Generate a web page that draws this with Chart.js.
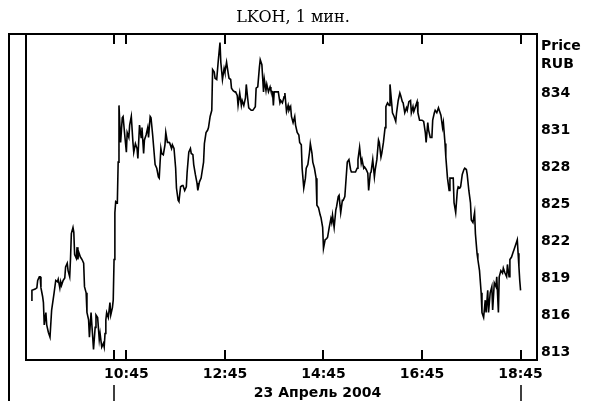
<!DOCTYPE html>
<html>
<head>
<meta charset="utf-8">
<script src="https://cdn.jsdelivr.net/npm/chart.js@4.4.1/dist/chart.umd.min.js"></script>
<style>
  html, body { margin: 0; padding: 0; background: #fff; }
</style>
</head>
<body>
<canvas id="chart" width="605" height="401"></canvas>
<script>
// 1-minute bars, numbered from the left edge of the plot; bar 121 = 10:45, 23 April
const bars = [
  5, 6, 10, 12, 13, 15, 16, 17, 19, 20, 21, 23, 24, 26, 28, 30, 33, 35, 37, 38,
  40, 41, 42, 44, 46, 47, 49, 50, 52, 53, 54, 56, 57, 58, 60, 61, 62, 63, 65, 66,
  67, 69, 70, 72, 73, 75, 76, 78, 80, 81, 83, 84, 86, 88, 89, 91, 93, 94, 95, 96,
  97, 99, 101, 102, 104, 105, 106, 107, 108, 110, 111, 112, 114, 116, 117, 119, 121, 122, 124, 125,
  127, 129, 130, 132, 134, 135, 137, 139, 140, 142, 143, 145, 147, 148, 150, 151, 153, 155, 156, 158,
  160, 161, 163, 164, 166, 168, 169, 171, 173, 174, 176, 177, 179, 181, 182, 184, 185, 187, 189, 190,
  192, 194, 195, 197, 199, 200, 202, 203, 205, 207, 208, 210, 212, 213, 215, 216, 218, 220, 221, 223,
  225, 226, 228, 229, 231, 233, 235, 236, 238, 240, 241, 243, 245, 246, 248, 249, 251, 253, 254, 256,
  257, 259, 261, 262, 264, 266, 267, 269, 270, 273, 275, 278, 279, 281, 283, 284, 286, 288, 289, 291,
  292, 294, 296, 297, 299, 300, 301, 304, 306, 308, 309, 311, 313, 314, 316, 318, 319, 321, 322, 324,
  326, 327, 329, 331, 332, 334, 335, 337, 339, 340, 342, 344, 345, 347, 348, 350, 352, 353, 355, 357,
  358, 360, 361, 363, 365, 366, 368, 370, 371, 372, 374, 376, 377, 379, 380, 382, 384, 385, 387, 389,
  390, 392, 394, 395, 398, 400, 402, 403, 405, 407, 408, 410, 411, 413, 415, 416, 418, 419, 421, 423,
  424, 426, 428, 429, 431, 432, 434, 436, 437, 439, 441, 442, 444, 445, 447, 449, 450, 452, 454, 455,
  457, 458, 460, 462, 463, 465, 467, 468, 470, 471, 473, 475, 476, 478, 480, 481, 483, 485, 486, 488,
  489, 491, 493, 494, 496, 497, 499, 501, 502, 504, 506, 507, 509, 510, 512, 514, 515, 517, 519, 520,
  522, 524, 525, 527, 528, 530, 532, 533, 535, 536, 538, 540, 541, 543, 545, 546, 548, 549, 551, 553,
  554, 556, 558, 559, 561, 562, 564, 566, 567, 569, 571, 572, 574, 575, 577, 579, 580, 582, 584, 585,
  587, 588, 590, 592, 593, 595, 597, 598, 599, 600, 601
];

const prices = [
  817.2, 818.0, 818.1, 818.2, 818.8, 819.1, 819.1, 818.2, 817.5, 817.0, 815.2, 816.2, 815.2, 814.6, 814.2, 816.4, 817.8, 818.8, 818.7, 818.9,
  818.2, 818.7, 818.4, 818.8, 819.0, 819.9, 820.2, 819.6, 819.1, 820.6, 822.6, 823.1, 822.7, 820.9, 820.6, 821.5, 820.5, 821.1, 820.7, 820.6,
  820.5, 820.2, 818.3, 817.8, 816.2, 815.6, 814.2, 816.2, 814.2, 813.2, 815.0, 816.0, 815.8, 814.0, 814.5, 813.4, 813.7, 813.4, 814.5, 815.6,
  816.2, 815.8, 817.0, 816.0, 816.6, 817.2, 820.5, 824.3, 825.2, 825.1, 828.4, 833.0, 830.0, 832.0, 832.1, 830.6, 829.2, 830.8, 830.4, 831.4,
  832.1, 830.0, 829.2, 829.9, 829.5, 828.7, 831.4, 830.4, 831.2, 829.1, 830.2, 830.6, 831.2, 830.4, 832.1, 832.0, 830.6, 829.0, 828.2, 827.9,
  827.2, 827.1, 829.5, 829.1, 829.0, 829.8, 830.8, 830.0, 830.0, 829.9, 829.5, 829.8, 829.5, 827.9, 826.3, 825.3, 825.2, 826.4, 826.5, 826.5,
  826.1, 826.4, 827.6, 829.2, 829.5, 829.1, 829.0, 828.2, 827.4, 826.7, 826.1, 826.8, 827.1, 827.1, 828.4, 829.9, 830.8, 831.0, 831.2, 832.1,
  832.6, 835.9, 835.7, 835.2, 835.1, 836.7, 838.1, 836.5, 835.1, 836.0, 835.7, 836.5, 835.6, 835.2, 835.1, 834.4, 834.2, 834.1, 834.1, 833.8,
  833.0, 834.0, 833.0, 833.4, 833.0, 833.6, 834.7, 833.4, 832.8, 832.6, 832.6, 832.9, 834.4, 834.5, 836.1, 836.7, 836.3, 834.1, 835.1, 834.2,
  834.7, 834.1, 834.5, 834.2, 834.1, 833.0, 834.1, 834.1, 834.1, 833.2, 833.4, 833.2, 833.7, 834.0, 832.5, 833.0, 832.6, 832.9, 832.1, 831.6,
  832.1, 831.4, 830.8, 830.6, 830.0, 829.8, 827.9, 826.3, 827.1, 827.9, 828.2, 829.2, 829.9, 829.1, 828.4, 827.9, 827.1, 824.9, 824.7, 824.1,
  823.9, 823.1, 821.4, 822.1, 822.2, 822.3, 823.1, 823.8, 823.5, 824.1, 823.1, 824.5, 824.8, 825.6, 825.7, 824.3, 825.3, 825.3, 825.6, 827.5,
  828.4, 828.6, 827.8, 827.6, 827.6, 827.6, 827.9, 828.6, 829.6, 828.3, 828.6, 827.9, 828.0, 827.8, 827.5, 826.1, 827.5, 827.6, 828.6, 827.2,
  827.8, 828.6, 830.2, 830.0, 828.8, 829.1, 830.0, 831.2, 832.9, 833.2, 833.0, 834.7, 833.2, 832.4, 832.1, 831.7, 832.4, 833.4, 834.0, 833.8,
  833.3, 833.2, 832.4, 832.8, 832.6, 833.3, 833.4, 832.4, 832.9, 832.5, 832.9, 833.3, 832.4, 831.8, 831.8, 831.8, 831.7, 830.8, 830.0, 831.6,
  831.0, 830.4, 830.4, 831.8, 832.4, 832.6, 832.4, 832.8, 832.6, 832.2, 831.2, 831.6, 829.9, 828.8, 827.1, 826.1, 827.1, 827.1, 827.1, 825.1,
  824.3, 826.1, 826.4, 826.3, 826.4, 827.4, 827.8, 827.9, 827.8, 827.4, 826.1, 825.1, 823.7, 823.5, 824.3, 822.6, 821.0, 820.5, 819.6, 817.8,
  816.2, 815.8, 817.2, 816.2, 818.0, 816.2, 817.8, 818.3, 816.4, 818.6, 818.3, 819.1, 816.2, 819.1, 819.6, 819.4, 819.8, 819.4, 819.1, 820.1,
  819.1, 820.5, 820.7, 821.1, 821.3, 821.7, 822.1, 821.0, 819.9, 818.8, 818.0
];

// time axis: 10:30 (session start, no label), 10:45 ... 18:45
const tickBars = [106, 121, 241, 361, 481, 601];
const tickLabels = ['', '10:45', '12:45', '14:45', '16:45', '18:45'];
const priceTicks = [813, 816, 819, 822, 825, 828, 831, 834];

const chartTitle = 'LKOH, 1 мин.';
const dateLabel = '23 Апрель 2004';
const unitLabels = ['Price', 'RUB'];

const boldFont = { family: "'DejaVu Sans', Verdana, sans-serif", size: 14, weight: 'bold' };

// Frame, tick marks and extra captions
const framePlugin = {
    id: 'frame',
    afterDraw(chart) {
        const { ctx, chartArea: a } = chart;
        const xs = chart.scales.x;
        ctx.save();
        ctx.strokeStyle = '#000';
        ctx.lineWidth = 2;
        ctx.beginPath();
        // outer left rule + top rule
        ctx.moveTo(9, 401);
        ctx.lineTo(9, a.top);
        ctx.lineTo(a.right + 1, a.top);
        // inner plot box
        ctx.moveTo(a.left - 1, a.top);
        ctx.lineTo(a.left - 1, a.bottom);
        ctx.lineTo(a.right, a.bottom);
        ctx.moveTo(a.right, a.top);
        ctx.lineTo(a.right, a.bottom + 1);
        // time ticks, top and bottom
        tickBars.forEach(v => {
            const px = Math.round(xs.getPixelForValue(v));
            ctx.moveTo(px, a.top);
            ctx.lineTo(px, a.top + 10);
            ctx.moveTo(px, a.bottom);
            ctx.lineTo(px, a.bottom - 10);
        });
        ctx.stroke();

        // day span markers under the labels
        const d0 = Math.round(xs.getPixelForValue(tickBars[0]));
        const d1 = Math.round(xs.getPixelForValue(tickBars[tickBars.length - 1]));
        ctx.lineWidth = 1.5;
        ctx.beginPath();
        ctx.moveTo(d0, a.bottom + 25);
        ctx.lineTo(d0, 401);
        ctx.moveTo(d1, a.bottom + 25);
        ctx.lineTo(d1, 401);
        ctx.stroke();

        ctx.fillStyle = '#000';
        ctx.textBaseline = 'middle';
        ctx.textAlign = 'center';
        ctx.font = "16px 'DejaVu Serif', serif";
        ctx.fillText(chartTitle, 293, 18);

        ctx.font = "bold 14px 'DejaVu Sans', Verdana, sans-serif";
        ctx.fillText(dateLabel, (d0 + d1) / 2, 393);

        ctx.textAlign = 'left';
        ctx.fillText(unitLabels[0], a.right + 4, 46);
        ctx.fillText(unitLabels[1], a.right + 4, 64);
        ctx.restore();
    }
};

const points = bars.map((b, i) => ({ x: b, y: prices[i] }));

const ctx = document.getElementById('chart').getContext('2d');
new Chart(ctx, {
    type: 'line',
    data: {
        datasets: [{
            data: points,
            borderColor: '#000',
            borderWidth: 1.6,
            pointRadius: 0,
            tension: 0,
            fill: false
        }]
    },
    options: {
        responsive: false,
        animation: false,
        devicePixelRatio: 1,
        layout: { padding: { left: 27, top: 34, right: 0, bottom: 0 } },
        plugins: {
            legend: { display: false },
            title: { display: false },
            tooltip: { enabled: false }
        },
        scales: {
            x: {
                type: 'linear',
                min: 0,
                max: 621,
                grid: { display: false, drawTicks: false },
                border: { display: false },
                afterBuildTicks: scale => {
                    scale.ticks = tickBars.map(v => ({ value: v }));
                },
                afterFit: scale => { scale.height = 41; },
                ticks: {
                    autoSkip: false,
                    maxRotation: 0,
                    minRotation: 0,
                    padding: 6,
                    color: '#000',
                    font: boldFont,
                    callback: (value, index) => tickLabels[index]
                }
            },
            y: {
                position: 'right',
                min: 812.35,
                max: 838.79,
                grid: { display: false, drawTicks: false },
                border: { display: false },
                afterBuildTicks: scale => {
                    scale.ticks = priceTicks.map(v => ({ value: v }));
                },
                afterFit: scale => { scale.width = 68; },
                ticks: {
                    padding: 4,
                    color: '#000',
                    font: boldFont,
                    callback: value => value
                }
            }
        }
    },
    plugins: [framePlugin]
});
</script>
</body>
</html>
